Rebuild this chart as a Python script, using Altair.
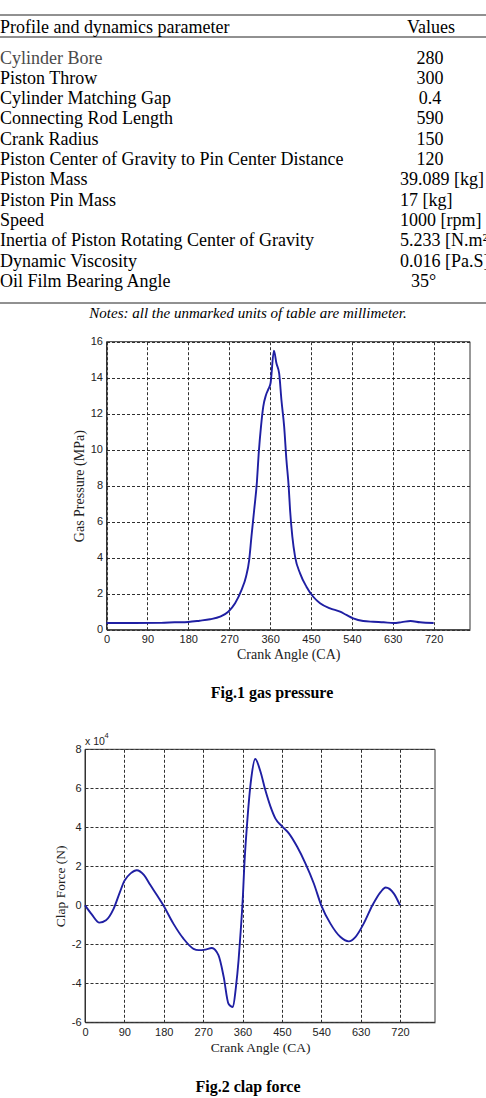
import altair as alt
import pandas as pd

# ---------------- data ----------------
param_names = [
    "Cylinder Bore",
    "Piston Throw",
    "Cylinder Matching Gap",
    "Connecting Rod Length",
    "Crank Radius",
    "Piston Center of Gravity to Pin Center Distance",
    "Piston Mass",
    "Piston Pin Mass",
    "Speed",
    "Inertia of Piston Rotating Center of Gravity",
    "Dynamic Viscosity",
    "Oil Film Bearing Angle",
]
param_values = [
    "280", "300", "0.4", "590", "150", "120",
    "39.089 [kg]", "17 [kg]", "1000 [rpm]", "5.233 [N.m²]", "0.016 [Pa.S]", "35°",
]

# Fig.1 gas pressure (MPa) against crank angle (deg)
gas_angle = [0, 60, 120, 150, 180, 205, 228, 250, 268, 283, 297, 307, 314, 319, 325,
             331, 335, 340, 345, 351, 356, 361, 368.5, 374, 380, 385, 391, 396, 401,
             404, 409, 415, 426, 440, 455, 470, 492, 514, 528, 543, 565, 587, 610,
             632, 650, 669, 690, 720]
gas_pressure = [0.37, 0.37, 0.38, 0.41, 0.43, 0.50, 0.58, 0.72, 1.00, 1.47, 2.20, 2.94,
                3.87, 5.17, 6.65, 8.20, 9.80, 11.28, 12.39, 13.04, 13.35, 13.69, 15.50,
                14.80, 14.24, 12.76, 11.28, 9.43, 7.94, 6.65, 5.17, 4.06, 3.13, 2.39,
                1.83, 1.47, 1.19, 1.00, 0.82, 0.63, 0.48, 0.44, 0.41, 0.37, 0.42, 0.48,
                0.41, 0.37]

# Fig.2 clap force (x 10^4 N) against crank angle (deg)
clap_angle = [0, 15, 33, 48, 65, 80, 90, 105, 118, 135, 149, 165, 179, 202, 225, 248,
              260, 275, 290, 305, 317, 328, 338, 345, 351, 356, 361, 364, 370, 380, 389,
              401, 412, 424, 435, 450, 466, 485, 504, 523, 540, 561, 584, 603, 618, 637,
              657, 676, 687, 706, 720]
clap_force = [0.0, -0.45, -0.89, -0.77, -0.20, 0.69, 1.25, 1.65, 1.80, 1.55, 1.05, 0.50,
              0.0, -0.94, -1.71, -2.23, -2.30, -2.27, -2.19, -2.56, -3.67, -5.05, -5.22,
              -4.19, -2.82, -1.28, 0.50, 1.97, 4.03, 6.51, 7.50, 6.86, 5.92, 5.06, 4.46,
              4.06, 3.69, 3.00, 2.14, 1.12, 0.0, -0.94, -1.63, -1.85, -1.63, -0.94, 0.0,
              0.69, 0.91, 0.60, 0.0]

angle_ticks = [0, 90, 180, 270, 360, 450, 540, 630, 720]
angle_domain = [0, 800]
gas_ticks = [0, 2, 4, 6, 8, 10, 12, 14, 16]
gas_domain = [0, 16]
clap_ticks = [-6, -4, -2, 0, 2, 4, 6, 8]
clap_domain = [-6, 8]

# ---------------- page layout ----------------
W, H = 486, 1098
SERIF = "Liberation Serif"
SANS = "Liberation Sans"
LINE_BLUE = "#1f1fa3"

box1 = dict(left=106.5, right=470, top=341.7, bottom=629.7)
box2 = dict(left=85, right=435, top=749.3, bottom=1022.3)


def one(text):
    return pd.DataFrame({"t": [text]})


def text_at(text, x, y, **kw):
    return alt.Chart(one(text)).mark_text(**kw).encode(
        text="t:N", x=alt.value(x), y=alt.value(y)
    )


def hrule(y, color="#222", width=1.0):
    return alt.Chart(one("")).mark_rule(color=color, strokeWidth=width).encode(
        x=alt.value(0), x2=alt.value(W), y=alt.value(y)
    )


# ---------------- table ----------------
table_df = pd.DataFrame({
    "param": param_names,
    "value": param_values,
    "row": list(range(len(param_names))),
})
row_scale = alt.Scale(domain=[0, 11], range=[63.5, 287], nice=False, zero=False)
row_y = alt.Y("row:Q", scale=row_scale, axis=None)
tbase = alt.Chart(table_df)

names_layer = tbase.mark_text(
    align="left", baseline="alphabetic", font=SERIF, fontSize=18
).encode(
    x=alt.value(0), y=row_y, text="param:N",
    color=alt.condition(alt.datum.row == 0, alt.value("#4a4a4a"), alt.value("#000000")),
)
plain_values = tbase.transform_filter(
    "indexof(datum.value, '[') < 0 && indexof(datum.value, '°') < 0"
).mark_text(align="center", baseline="alphabetic", font=SERIF, fontSize=18, color="#000").encode(
    x=alt.value(430), y=row_y, text="value:N"
)
unit_values = tbase.transform_filter("indexof(datum.value, '[') >= 0").mark_text(
    align="left", baseline="alphabetic", font=SERIF, fontSize=18, color="#000"
).encode(x=alt.value(400), y=row_y, text="value:N")
angle_values = tbase.transform_filter("indexof(datum.value, '°') >= 0").mark_text(
    align="left", baseline="alphabetic", font=SERIF, fontSize=18, color="#000"
).encode(x=alt.value(411), y=row_y, text="value:N")

table_layers = [
    hrule(15), hrule(37), hrule(303),
    text_at("Profile and dynamics parameter", 0, 32.5, align="left", baseline="alphabetic",
            font=SERIF, fontSize=18, color="#000"),
    text_at("Values", 431, 32.5, align="center", baseline="alphabetic",
            font=SERIF, fontSize=18, color="#000"),
    names_layer, plain_values, unit_values, angle_values,
    text_at("Notes: all the unmarked units of table are millimeter.", 248, 318,
            align="center", baseline="alphabetic", font=SERIF, fontSize=15,
            fontStyle="italic", color="#000"),
]

# ---------------- plotting panels ----------------
grid_style = dict(gridColor="#1a1a1a", gridDash=[3, 2], gridWidth=1, gridOpacity=0.9)
label_style = dict(
    labelFont=SANS, labelFontSize=11, labelColor="#222", labelPadding=4,
    titleFont=SERIF, titleFontWeight="normal", titleColor="#222",
    labelFlush=False, labelOverlap=False, ticks=False,
    domain=True, domainColor="#333", domainWidth=1,
)


def panel_layers(df, yfield, box, ydomain, yticks, ytitle, title_size):
    xs = alt.Scale(domain=angle_domain, range=[box["left"], box["right"]], nice=False, zero=False)
    ys = alt.Scale(domain=ydomain, range=[box["bottom"], box["top"]], nice=False, zero=False)

    # labelled axes: x along the bottom edge, y along the left edge (with horizontal grid)
    x_enc = alt.X(
        "angle:Q", scale=xs,
        axis=alt.Axis(orient="bottom", offset=box["bottom"] - H, values=angle_ticks,
                      grid=False, title="Crank Angle (CA)", titleFontSize=title_size,
                      titlePadding=3, **label_style),
    )
    y_enc = alt.Y(
        f"{yfield}:Q", scale=ys,
        axis=alt.Axis(orient="left", offset=-box["left"], values=yticks,
                      labelExpr="toString(datum.value)", grid=True, **grid_style,
                      title=ytitle, titleFontSize=title_size, titlePadding=4,
                      **label_style),
    )
    curve = alt.Chart(df).mark_line(
        color=LINE_BLUE, strokeWidth=1.9, interpolate="monotone"
    ).encode(x=x_enc, y=y_enc)

    # plot frame; its top-anchored x axis only supplies the vertical grid lines
    frame_df = pd.DataFrame({"x0": [angle_domain[0]], "x1": [angle_domain[1]],
                             "y0": [ydomain[0]], "y1": [ydomain[1]]})
    frame = alt.Chart(frame_df).mark_rect(
        fillOpacity=0, stroke="#333", strokeWidth=1
    ).encode(
        x=alt.X("x0:Q", scale=xs,
                axis=alt.Axis(orient="top", offset=-box["top"], values=angle_ticks,
                              grid=True, **grid_style, labels=False, ticks=False,
                              domain=False, title=None)),
        x2="x1:Q",
        y=alt.Y("y0:Q", scale=ys, axis=None), y2="y1:Q",
    )
    return [frame, curve]


gas_df = pd.DataFrame({"angle": gas_angle, "pressure": gas_pressure})
clap_df = pd.DataFrame({"angle": clap_angle, "force": clap_force})

fig1_layers = panel_layers(gas_df, "pressure", box1, gas_domain, gas_ticks, "Gas Pressure (MPa)", 14)
fig2_layers = panel_layers(clap_df, "force", box2, clap_domain, clap_ticks, "Clap Force (N)", 13.5)

caption_layers = [
    text_at("Fig.1 gas pressure", 272, 698, align="center", baseline="alphabetic",
            font=SERIF, fontSize=16, fontWeight="bold", color="#000"),
    text_at("Fig.2 clap force", 248, 1092, align="center", baseline="alphabetic",
            font=SERIF, fontSize=16, fontWeight="bold", color="#000"),
    text_at("x 10", 85, 744.5, align="left", baseline="alphabetic",
            font=SANS, fontSize=10.5, color="#222"),
    text_at("4", 104.5, 737.5, align="left", baseline="alphabetic",
            font=SANS, fontSize=7.5, color="#222"),
]

chart = alt.layer(
    *table_layers, *fig1_layers, *fig2_layers, *caption_layers
).resolve_scale(
    x="independent", y="independent"
).resolve_axis(
    x="independent", y="independent"
).properties(
    width=W, height=H, padding=0,
    autosize=alt.AutoSizeParams(type="none"),
    background="white",
).configure_view(strokeWidth=0)

chart.save("out.html", embed_options={"renderer": "svg", "actions": False})
